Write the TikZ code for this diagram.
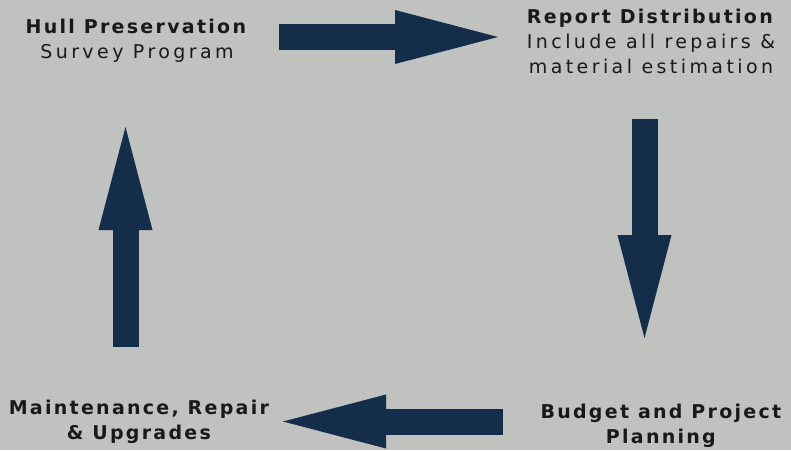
\documentclass[tikz,border=0pt]{standalone}
\usepackage{fontspec}
\setmainfont{DejaVu Sans}[LetterSpace=18,BoldFeatures={LetterSpace=12}]
\usetikzlibrary{arrows.meta}
\definecolor{bggray}{HTML}{C0C2BF}
\definecolor{navy}{HTML}{132D4A}
\tikzset{
  label text/.style={align=center,font=\fontsize{19}{25}\selectfont,text=black!90,inner sep=0pt},
  block arrow/.style={draw=navy,line width=26pt,
    -{Triangle[length=103pt,width=54pt,line width=0pt,fill=navy]}}
}
\begin{document}
\begin{tikzpicture}[x=1pt,y=-1pt]
\fill[bggray] (0,0) rectangle (791,450);
\useasboundingbox (0,0) rectangle (791,450);
% steps of the cycle
\node[label text] (survey) at (137,40.5) {\textbf{Hull Preservation}\\Survey Program};
\node[label text] (report) at (651,41) {\textbf{Report Distribution}\\Include all repairs \&\\material estimation};
\node[label text] (budget) at (662,425.5) {\textbf{Budget and Project}\\\textbf{Planning}};
\node[label text] (repair) at (140,421.5) {\textbf{Maintenance, Repair}\\\textbf{\& Upgrades}};
% arrow ends
\coordinate (a1) at (279,37);   \coordinate (b1) at (498,37);
\coordinate (a2) at (644.5,119); \coordinate (b2) at (644.5,338);
\coordinate (a3) at (503,421.5); \coordinate (b3) at (283,421.5);
\coordinate (a4) at (125.5,347); \coordinate (b4) at (125.5,127);
\draw[block arrow] (a1) -- (b1);
\draw[block arrow] (a2) -- (b2);
\draw[block arrow] (a3) -- (b3);
\draw[block arrow] (a4) -- (b4);
\end{tikzpicture}
\end{document}
